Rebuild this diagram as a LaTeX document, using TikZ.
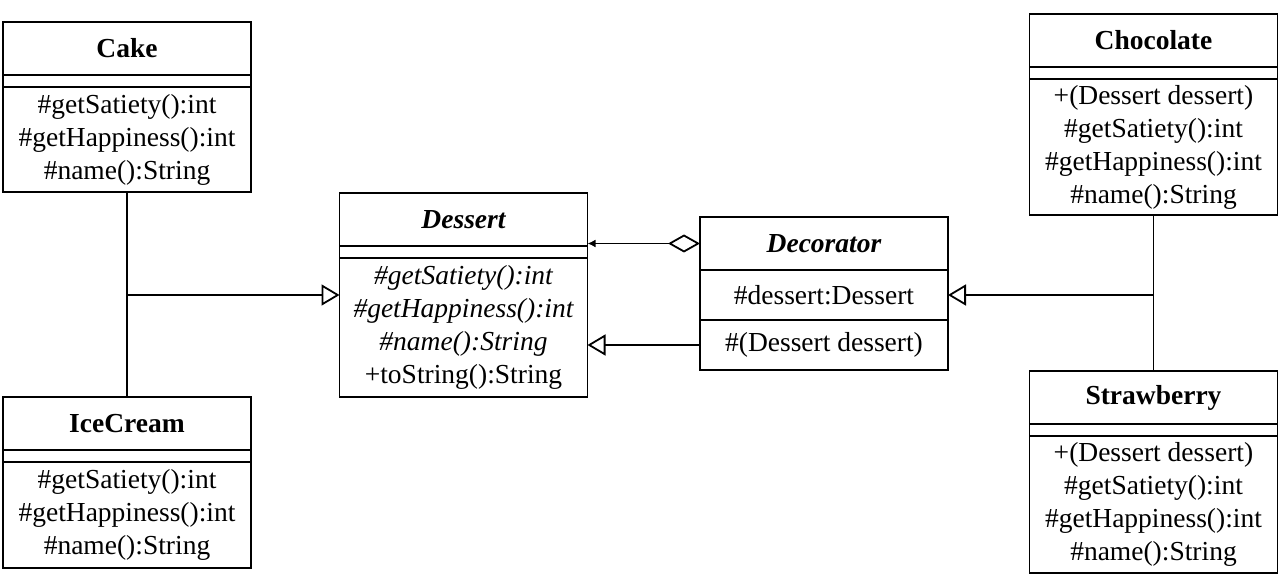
\documentclass[tikz,border=0pt]{standalone}
\usepackage{fontspec}
\setmainfont{Liberation Serif}
\usetikzlibrary{positioning,arrows.meta}
\tikzset{
  cls/.style={draw, line width=1.8pt, minimum width=248pt, inner sep=0pt, outer sep=0pt,
    align=center, font=\fontsize{27.5}{33}\selectfont},
  clsname/.style={cls, minimum height=53pt, font=\fontsize{27.5}{33}\selectfont\bfseries},
  clsgap/.style={cls, minimum height=12pt},
  clsbody/.style={cls, minimum height=#1},
  conn/.style={line width=1.8pt},
  inherit/.style={conn, -{Triangle[open, length=18pt, width=21pt]}},
  aggr/.style={conn, {Diamond[open, length=32pt, width=18pt]}-{Latex[length=8pt, width=8pt]}},
}
\begin{document}
\begin{tikzpicture}[x=1pt, y=-1pt]
\useasboundingbox (0,0) rectangle (1286,580);

\node[clsname] (cake) at (127,48.5) {Cake};
\node[clsgap, below=0pt of cake] (cake-g) {};
\node[clsbody=105pt, below=0pt of cake-g] (cake-m)
  {\#getSatiety():int\\\#getHappiness():int\\\#name():String};

\node[clsname] (ice) at (127,423.5) {IceCream};
\node[clsgap, below=0pt of ice] (ice-g) {};
\node[clsbody=106pt, below=0pt of ice-g] (ice-m)
  {\#getSatiety():int\\\#getHappiness():int\\\#name():String};

\node[clsname] (dessert) at (463.5,219.5) {\itshape Dessert};
\node[clsgap, below=0pt of dessert] (dessert-g) {};
\node[clsbody=139pt, below=0pt of dessert-g] (dessert-m)
  {{\itshape\#getSatiety():int}\\{\itshape\#getHappiness():int}\\{\itshape\#name():String}\\+toString():String};

\node[clsname] (deco) at (824,243.5) {\itshape Decorator};
\node[clsbody=50pt, below=0pt of deco] (deco-a) {\#dessert:Dessert};
\node[clsbody=50pt, below=0pt of deco-a] (deco-m) {\#(Dessert dessert)};

\node[clsname] (choc) at (1153.5,40.5) {Chocolate};
\node[clsgap, below=0pt of choc] (choc-g) {};
\node[clsbody=136pt, below=0pt of choc-g] (choc-m)
  {+(Dessert dessert)\\\#getSatiety():int\\\#getHappiness():int\\\#name():String};

\node[clsname] (straw) at (1153.5,397.5) {Strawberry};
\node[clsgap, below=0pt of straw] (straw-g) {};
\node[clsbody=137pt, below=0pt of straw-g] (straw-m)
  {+(Dessert dessert)\\\#getSatiety():int\\\#getHappiness():int\\\#name():String};

\coordinate (left-join) at (127,295);
\coordinate (right-join) at (1153.5,295);

\draw[conn] (cake-m.south) -- (ice.north);
\draw[inherit] (left-join) -- (left-join -| dessert-m.west);
\draw[conn] (choc-m.south) -- (straw.north);
\draw[inherit] (right-join) -- (right-join -| deco-a.east);
\draw[inherit] (deco-m.west) -- (deco-m.west -| dessert-m.east);
\draw[aggr] (deco.west) -- (deco.west -| dessert.east);
\end{tikzpicture}
\end{document}
